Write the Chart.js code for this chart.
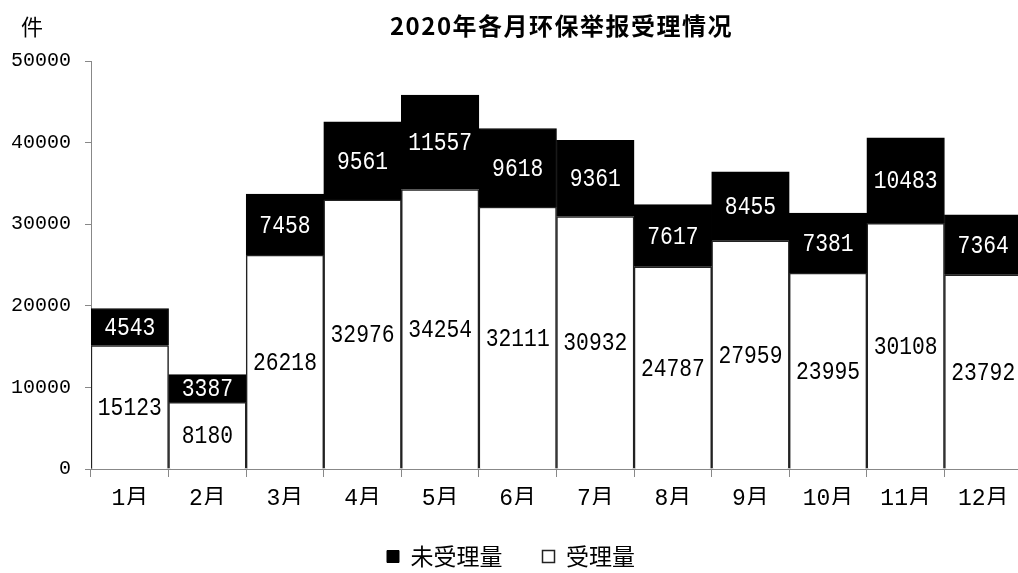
<!DOCTYPE html>
<html><head><meta charset="utf-8">
<script src="https://cdn.jsdelivr.net/npm/chart.js@4"></script>
<style>
html,body{margin:0;padding:0;overflow:hidden;background:#fff}
#wrap{position:absolute;left:0;top:0;width:1022px;height:578px}
</style>
</head><body><div id="wrap"><canvas id="c"></canvas></div>
<script>
const titleText = '2020年各月环保举报受理情况';
const unitText = '件';
const months = ['1月','2月','3月','4月','5月','6月','7月','8月','9月','10月','11月','12月'];
const accepted = [15123, 8180, 26218, 32976, 34254, 32111, 30932, 24787, 27959, 23995, 30108, 23792];
const unaccepted = [4543, 3387, 7458, 9561, 11557, 9618, 9361, 7617, 8455, 7381, 10483, 7364];
const seriesNames = ['受理量', '未受理量'];

const valueLabels = {
  id: 'valueLabels',
  afterDatasetsDraw(chart) {
    const ctx = chart.ctx;
    chart.data.datasets.forEach((ds, di) => {
      const meta = chart.getDatasetMeta(di);
      meta.data.forEach((bar, i) => {
        const y = (bar.y + bar.base) / 2;
        ctx.save();
        ctx.translate(bar.x, y);
        ctx.scale(0.82, 1);
        ctx.font = '26px "Liberation Mono"';
        ctx.fillStyle = di === 0 ? '#000' : '#fff';
        ctx.textAlign = 'center';
        ctx.textBaseline = 'middle';
        ctx.fillText(String(ds.data[i]), 0, 1);
        ctx.restore();
      });
    });
  }
};

const extraText = {
  id: 'extraText',
  afterDraw(chart) {
    const ctx = chart.ctx, a = chart.chartArea;
    ctx.save();
    ctx.fillStyle = '#000';
    ctx.textAlign = 'center';
    ctx.textBaseline = 'middle';
    ctx.font = 'bold 24px "Noto Sans CJK SC"';
    ctx.letterSpacing = '1.5px';
    ctx.fillText(titleText, (a.left + a.right) / 2 + 5, 26);
    ctx.letterSpacing = '0px';
    ctx.font = '22px "Noto Sans CJK SC"';
    ctx.fillText(unitText, 32, 27);
    ctx.restore();
  }
};

Chart.defaults.color = '#000';

new Chart(document.getElementById('c'), {
  type: 'bar',
  data: {
    labels: months,
    datasets: [
      { label: seriesNames[0], data: accepted, backgroundColor: '#fff', borderColor: '#222', borderWidth: 1.5,
        barPercentage: 1, categoryPercentage: 1 },
      { label: seriesNames[1], data: unaccepted, backgroundColor: '#000', borderColor: '#000', borderWidth: 1,
        barPercentage: 1, categoryPercentage: 1 }
    ]
  },
  options: {
    responsive: true,
    maintainAspectRatio: false,
    animation: false,
    layout: { padding: { top: 61, left: 0, right: 0, bottom: 0 } },
    plugins: {
      legend: {
        position: 'bottom',
        reverse: true,
        labels: { boxWidth: 12, boxHeight: 12, padding: 40, color: '#000',
          font: { size: 23, family: '"Noto Sans CJK SC"' } }
      },
      title: { display: false },
      tooltip: { enabled: false }
    },
    scales: {
      x: {
        stacked: true,
        grid: { display: true, drawOnChartArea: false, drawTicks: true, tickLength: 8, color: '#888', offset: true },
        border: { display: true, color: '#888', width: 1 },
        ticks: { padding: 8, color: '#000', font: { size: 23, family: '"Liberation Mono", "Noto Sans CJK SC"' } },
        afterFit(s) { s.height = 36; }
      },
      y: {
        stacked: true,
        min: 0, max: 50000,
        ticks: { stepSize: 10000, padding: 14, color: '#000',
          font: { size: 20, family: '"Liberation Mono"' },
          callback: v => String(v) },
        grid: { display: true, drawOnChartArea: false, tickLength: 6, color: '#888' },
        border: { display: true, color: '#888', width: 1 },
        afterFit(s) { s.width = 91; }
      }
    }
  },
  plugins: [valueLabels, extraText]
});
</script>
</body></html>
